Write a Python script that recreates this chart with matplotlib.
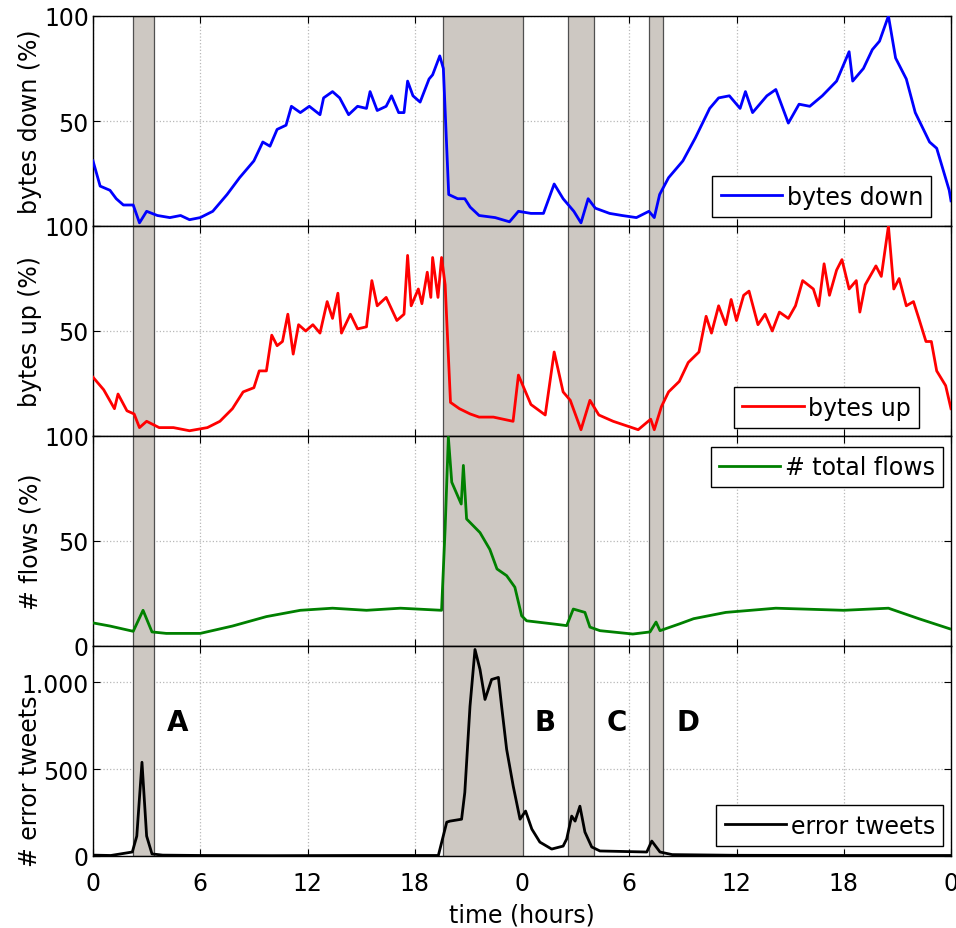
import matplotlib.pyplot as plt
import numpy as np

plt.rcParams['font.family'] = ['DejaVu Sans']

# hours since start (two days)
t_down = [0, 0.4, 0.95, 1.3, 1.7, 2.25, 2.6, 3.0, 3.6, 4.3, 4.9, 5.4, 6.0, 6.7, 7.5, 8.2,
          9.0, 9.5, 9.9, 10.3, 10.8, 11.1, 11.6, 12.1, 12.7, 12.9, 13.4, 13.8, 14.3, 14.8,
          15.3, 15.5, 15.9, 16.4, 16.7, 17.1, 17.4, 17.6, 17.9, 18.3, 18.8, 19.0, 19.4,
          19.6, 19.9, 20.4, 20.8, 21.1, 21.6, 22.5, 23.3, 23.8, 24.5, 25.2, 25.8, 26.3,
          26.9, 27.3, 27.7, 28.1, 28.9, 29.6, 30.4, 31.1, 31.4, 31.7, 32.2, 33.0, 33.7,
          34.5, 35.0, 35.6, 36.2, 36.5, 36.9, 37.7, 38.2, 38.9, 39.5, 40.1, 40.8, 41.6,
          42.3, 42.5, 43.1, 43.6, 44.0, 44.5, 44.9, 45.5, 46.0, 46.8, 47.2, 47.9, 48.0]
bytes_down = [31, 19, 17, 13, 10, 10, 1.5, 7, 5, 4, 5, 3, 4, 7, 15, 23,
              31, 40, 38, 46, 48, 57, 54, 57, 53, 61, 64, 61, 53, 57,
              56, 64, 55, 57, 62, 54, 54, 69, 62, 59, 70, 72, 81,
              75, 15, 13, 13, 9, 5, 4, 2, 7, 6, 6, 20, 13,
              7, 1.5, 13, 8.5, 6, 5, 4, 7, 4, 15, 23, 31, 42,
              56, 61, 62, 56, 64, 54, 62, 65, 49, 58, 57, 62, 69,
              83, 69, 75, 84, 88, 100, 80, 70, 54, 40, 37, 17, 12]

t_up = [0, 0.6, 1.2, 1.4, 1.9, 2.3, 2.6, 3.0, 3.7, 4.5, 5.4, 6.4, 7.1, 7.8, 8.4, 9.0,
        9.3, 9.7, 10.0, 10.3, 10.6, 10.9, 11.2, 11.5, 11.9, 12.3, 12.7, 13.1, 13.4, 13.7,
        13.9, 14.4, 14.8, 15.3, 15.6, 15.9, 16.4, 17.0, 17.4, 17.6, 17.8, 18.2, 18.4,
        18.7, 18.9, 19.0, 19.3, 19.5, 19.7, 20.0, 20.5, 21.1, 21.6, 22.4, 23.5, 23.8,
        24.5, 25.3, 25.8, 26.3, 26.7, 27.3, 27.8, 28.3, 29.1, 29.8, 30.5, 31.2, 31.4,
        31.8, 32.2, 32.8, 33.3, 33.9, 34.3, 34.6, 35.0, 35.4, 35.7, 36.0, 36.4, 36.7,
        37.2, 37.6, 38.0, 38.4, 38.9, 39.3, 39.7, 40.3, 40.6, 40.9, 41.2, 41.6, 41.9,
        42.3, 42.7, 42.9, 43.2, 43.8, 44.1, 44.5, 44.8, 45.1, 45.5, 45.9, 46.2, 46.6,
        46.9, 47.2, 47.7, 48.0]
bytes_up = [28, 22, 13, 20, 12, 10.5, 4, 7, 4, 4, 2.5, 4, 7, 13, 21, 23,
            31, 31, 48, 43, 45, 58, 39, 53, 50, 53, 49, 64, 56, 68,
            49, 58, 51, 52, 74, 62, 66, 55, 58, 86, 62, 70, 63,
            78, 66, 85, 66, 85, 72, 16, 13, 10.5, 9, 9, 7, 29,
            15, 10, 40, 21, 17, 3, 17, 10, 7, 5, 3, 8, 3,
            14, 21, 26, 35, 40, 57, 49, 62, 53, 65, 55, 67, 69,
            53, 58, 50, 59, 56, 62, 74, 70, 62, 82, 67, 79, 84,
            70, 74, 59, 72, 81, 76, 100, 70, 75, 62, 64, 56, 45,
            45, 31, 24, 13]

t_flows = [0, 0.95, 2.25, 2.8, 3.3, 4.1, 6.0, 7.8, 9.7, 11.6, 13.4, 15.3, 17.2, 19.5,
           19.7, 19.88, 20.07, 20.6, 20.72, 20.9, 21.65, 22.2, 22.6, 23.14, 23.6, 23.98,
           24.26, 25.75, 26.5, 26.87, 27.52, 27.8, 28.36, 30.2, 31.16, 31.5, 31.72, 32.8,
           33.6, 35.4, 38.2, 42.0, 44.5, 46.2, 48.0]
flows = [11, 9.5, 7, 17, 6.7, 6, 6, 9.5, 14, 17, 18, 17, 18, 17,
         56, 99.5, 78, 67.6, 86, 60.5, 54, 46, 36.7, 33.5, 28, 14.4,
         12, 10.5, 9.7, 17.6, 16, 9, 7.3, 5.7, 6.7, 11.4, 7.3, 10.5,
         13, 16, 18, 17, 18, 13, 8]

t_err = [0, 1.0, 2.2, 2.45, 2.74, 3.0, 3.3, 3.9, 6.0, 10.0, 15.0, 19.32, 19.79, 19.97,
         20.62, 20.8, 21.09, 21.37, 21.65, 21.93, 22.3, 22.68, 22.86, 23.14, 23.51, 23.89,
         24.2, 24.55, 25.0, 25.66, 26.3, 26.5, 26.78, 26.97, 27.24, 27.52, 27.9, 28.36,
         30.98, 31.26, 31.72, 32.4, 36.0, 42.0, 48.0]
err_tweets = [5, 3, 23, 115, 540, 115, 12, 5, 3, 2, 3, 3, 195, 201,
              212, 366, 862, 1190, 1075, 902, 1017, 1029, 862, 615, 402, 212,
              259, 155, 80, 40, 57, 98, 230, 201, 287, 138, 52, 29,
              23, 86, 23, 8, 4, 3, 3]

spans = [(2.24, 3.41), (19.58, 24.05), (26.6, 28.0), (31.1, 31.9)]
letters = ['A', 'B', 'C', 'D']
letter_x = [4.75, 25.3, 29.3, 33.3]
xticks = [0, 6, 12, 18, 24, 30, 36, 42, 48]
xticklabels = ['0', '6', '12', '18', '0', '6', '12', '18', '0']

fs = 17
fig = plt.figure(figsize=(9.56, 9.29), dpi=100)
W, H = 956, 929
left, right = 93, 951
tops = [17, 227, 437, 647]
ph = 210

series = [
    (t_down, bytes_down, 'blue', 'bytes down', 'bytes down (%)', 100),
    (t_up, bytes_up, 'red', 'bytes up', 'bytes up (%)', 100),
    (t_flows, flows, '#008000', '# total flows', '# flows (%)', 100),
    (t_err, err_tweets, 'black', 'error tweets', '# error tweets', 1210),
]
leg_pos = [('lower right', (0.977, 0.043)), ('lower right', (0.963, 0.038)),
           ('upper right', (0.991, 0.948)), ('lower right', (0.991, 0.048))]
label_y = [0.5, 0.5, 0.5, 0.36]

axes = []
for i, (tx, vy, col, lab, ylab, ymax) in enumerate(series):
    ax = fig.add_axes([left / W, 1 - (tops[i] + ph) / H, (right - left) / W, ph / H])
    axes.append(ax)
    for a, b in spans:
        ax.axvspan(a, b, facecolor='#cdc8c2', edgecolor='#505050', lw=0.9, zorder=1)
    ax.plot(tx, vy, color=col, lw=2.0, label=lab, zorder=3)
    ax.set_xlim(0, 48)
    ax.set_ylim(0, ymax)
    ax.set_xticks(xticks)
    if i == 3:
        ax.set_yticks([0, 500, 1000])
        ax.set_yticklabels(['0', '500', '1.000'])
        ax.set_xticklabels(xticklabels)
        ax.set_xlabel('time (hours)', fontsize=fs, labelpad=5)
    else:
        ax.set_yticks([0, 50, 100])
        ax.set_yticklabels(['0' if i == 2 else '', '50', '100'])
        ax.set_xticklabels([])
    ax.set_axisbelow(True)
    ax.grid(True, ls=':', color='#b8b8b8', lw=0.9)
    ax.tick_params(direction='in', top=True, right=True, length=5, labelsize=fs, pad=3)
    ax.tick_params(axis='x', pad=11)
    ax.set_ylabel(ylab, fontsize=fs)
    ax.yaxis.set_label_coords(-0.059, label_y[i])
    for s in ax.spines.values():
        s.set_linewidth(1.0)
    loc, anchor = leg_pos[i]
    ax.legend(loc=loc, bbox_to_anchor=anchor, fontsize=fs, fancybox=False,
              edgecolor='black', framealpha=1, borderaxespad=0, handlelength=2.6,
              handletextpad=0.2, borderpad=0.35).get_frame().set_linewidth(1.0)

for lx, lt in zip(letter_x, letters):
    axes[3].text(lx, 770, lt, fontsize=20, fontweight='bold', ha='center', va='center')

fig.savefig('out.png', dpi=100)
